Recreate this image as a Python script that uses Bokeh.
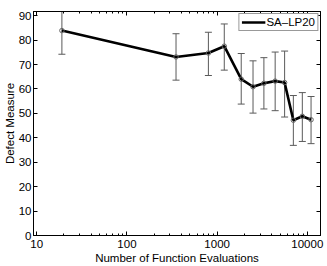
from bokeh.plotting import figure
from bokeh.models import (Range1d, FixedTicker, LinearAxis, LogAxis, Whisker,
                          ColumnDataSource, Legend, LegendItem, TeeHead)
from bokeh.embed import file_html
from bokeh.resources import INLINE

# ---- data ----
evaluations = [19, 350, 800, 1200, 1850, 2500, 3300, 4400, 5600, 7000, 8800, 11000]
defect = [83.9, 73.1, 74.7, 77.5, 64.0, 60.9, 62.3, 63.2, 62.6, 47.2, 48.8, 47.4]
defect_upper = [94.0, 82.6, 83.2, 86.6, 74.5, 71.5, 72.8, 75.1, 75.5, 57.3, 58.5, 56.9]
defect_lower = [74.2, 63.6, 65.5, 67.7, 53.8, 50.1, 51.8, 51.1, 48.5, 36.9, 38.5, 37.6]
series_name = "SA\u2013LP20"

x_major_ticks = [10, 100, 1000, 10000]
x_tick_labels = ["10", "100", "1000", "10000"]
x_minor_ticks = [m * d for d in (10, 100, 1000) for m in range(2, 10)]
y_ticks = [0, 10, 20, 30, 40, 50, 60, 70, 80, 90]

FONT = "Liberation Sans"
FS = "11.5px"

src = ColumnDataSource(dict(x=evaluations, y=defect, up=defect_upper, lo=defect_lower))

p = figure(width=327, height=266, x_axis_type="log", output_backend="svg",
           toolbar_location=None,
           x_range=Range1d(9.2, 14000), y_range=Range1d(0, 91.7),
           min_border_left=32, min_border_right=7, min_border_top=11, min_border_bottom=29)

p.grid.visible = False
p.outline_line_color = "black"
p.background_fill_color = "white"
p.border_fill_color = "white"

xt = FixedTicker(ticks=x_major_ticks, minor_ticks=x_minor_ticks)
yt = FixedTicker(ticks=y_ticks)

xa = p.xaxis[0]
xa.ticker = xt
xa.major_label_overrides = {t: s for t, s in zip(x_major_ticks, x_tick_labels)}
xa.axis_label = "Number of Function Evaluations"
ya = p.yaxis[0]
ya.ticker = yt
ya.axis_label = "Defect Measure"

for ax in (xa, ya):
    ax.major_tick_in = 4
    ax.major_tick_out = 0
    ax.minor_tick_in = 2
    ax.minor_tick_out = 0
    ax.axis_line_color = "black"
    ax.major_tick_line_color = "black"
    ax.minor_tick_line_color = "black"
    ax.major_label_text_font = FONT
    ax.major_label_text_font_size = FS
    ax.major_label_text_color = "black"
    ax.axis_label_text_font = FONT
    ax.axis_label_text_font_size = FS
    ax.axis_label_text_font_style = "normal"
    ax.axis_label_text_color = "black"
ya.minor_tick_line_color = None
xa.major_label_standoff = 4
xa.axis_label_standoff = 1
ya.major_label_standoff = 2
ya.axis_label_standoff = 0

# mirrored axes (ticks only, labels invisible)
top = LogAxis(ticker=xt, major_tick_in=4, major_tick_out=0, minor_tick_in=2, minor_tick_out=0,
              major_label_text_font_size="2px", major_label_text_color=None,
              major_label_standoff=0, axis_line_color="black")
right = LinearAxis(ticker=yt, major_tick_in=4, major_tick_out=0, minor_tick_line_color=None,
                   major_label_text_font_size="2px", major_label_text_color=None,
                   major_label_standoff=0, axis_line_color="black")
p.add_layout(top, "above")
p.add_layout(right, "right")

# error bars
wh = Whisker(source=src, base="x", upper="up", lower="lo", dimension="height",
             line_color="#5a5a5a", line_width=1,
             upper_head=TeeHead(size=7, line_color="#5a5a5a", line_width=1),
             lower_head=TeeHead(size=7, line_color="#5a5a5a", line_width=1))
p.add_layout(wh)

ln = p.line("x", "y", source=src, line_color="black", line_width=2.6)
p.scatter("x", "y", source=src, marker="circle", size=4.5, fill_color=None,
          line_color="#666666", line_width=1)

legend = Legend(items=[LegendItem(label=series_name, renderers=[ln])],
                location="top_right", glyph_width=24, glyph_height=12,
                label_standoff=1, padding=2, margin=2, spacing=0,
                label_text_font=FONT, label_text_font_size=FS,
                label_text_color="black", label_height=12,
                border_line_color="#333333", border_line_width=1,
                background_fill_color="white", background_fill_alpha=1)
p.add_layout(legend)

open("out.html", "w").write(file_html(p, INLINE))
